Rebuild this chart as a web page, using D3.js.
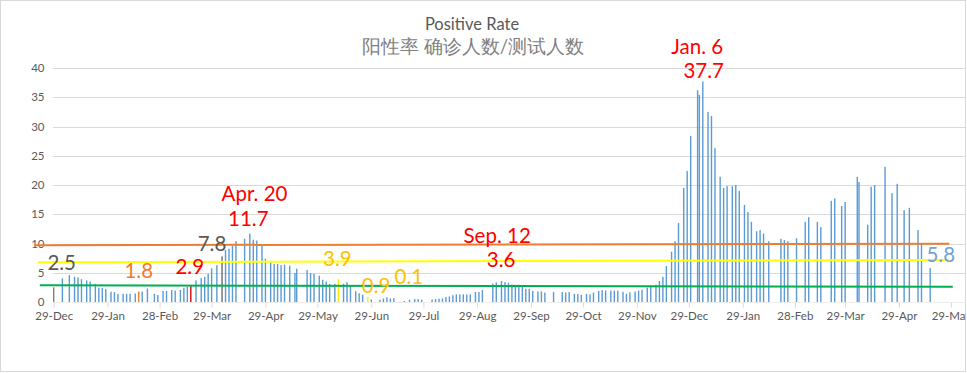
<!doctype html>
<html>
<head>
  <title>Positive Rate</title>
  <meta charset="UTF-8">
  <script src="https://d3js.org/d3.v7.min.js"></script>
  <style>
    body { margin: 0; background: #ffffff; }
    text { font-family: Lato, "Noto Sans", sans-serif; }
  </style>
</head>
<body>
  <div id="svg_area"></div>

<script>

// report dates and the positive rate (%) for each one
var dates = [
  "2019-12-29","2020-01-03","2020-01-07","2020-01-10","2020-01-12","2020-01-14","2020-01-17","2020-01-19",
  "2020-01-22","2020-01-24","2020-01-26","2020-01-28","2020-01-31","2020-02-02","2020-02-04","2020-02-07",
  "2020-02-09","2020-02-11","2020-02-14","2020-02-16","2020-02-18","2020-02-21","2020-02-25","2020-02-27",
  "2020-03-01","2020-03-03","2020-03-06","2020-03-08","2020-03-11","2020-03-13","2020-03-15","2020-03-17",
  "2020-03-20","2020-03-23","2020-03-25","2020-03-27","2020-03-29","2020-04-01","2020-04-04","2020-04-06",
  "2020-04-08","2020-04-10","2020-04-12","2020-04-17","2020-04-20","2020-04-22","2020-04-24","2020-04-27",
  "2020-04-29","2020-05-02","2020-05-04","2020-05-06","2020-05-08","2020-05-10","2020-05-13","2020-05-16",
  "2020-05-17","2020-05-23","2020-05-25","2020-05-27","2020-05-30","2020-06-01","2020-06-03","2020-06-05",
  "2020-06-08","2020-06-10","2020-06-13","2020-06-15","2020-06-17","2020-06-20","2020-06-22","2020-06-24",
  "2020-06-27","2020-06-29","2020-07-04","2020-07-06","2020-07-08","2020-07-10","2020-07-12","2020-07-15",
  "2020-07-18","2020-07-21","2020-07-24","2020-07-26","2020-07-28","2020-08-03","2020-08-05","2020-08-07",
  "2020-08-09","2020-08-11","2020-08-13","2020-08-15","2020-08-17","2020-08-19","2020-08-21","2020-08-23",
  "2020-08-25","2020-08-28","2020-08-30","2020-09-01","2020-09-07","2020-09-09","2020-09-12","2020-09-14",
  "2020-09-16","2020-09-18","2020-09-20","2020-09-22","2020-09-24","2020-09-26","2020-09-28","2020-09-30",
  "2020-10-03","2020-10-05","2020-10-07","2020-10-12","2020-10-17","2020-10-19","2020-10-21","2020-10-24",
  "2020-10-26","2020-10-28","2020-10-31","2020-11-02","2020-11-04","2020-11-07","2020-11-09","2020-11-11",
  "2020-11-14","2020-11-16","2020-11-18","2020-11-21","2020-11-23","2020-11-25","2020-11-28","2020-11-30",
  "2020-12-02","2020-12-05","2020-12-07","2020-12-10","2020-12-12","2020-12-14","2020-12-16","2020-12-19",
  "2020-12-21","2020-12-23","2020-12-26","2020-12-28","2020-12-30","2021-01-03","2021-01-04","2021-01-06",
  "2021-01-09","2021-01-11","2021-01-13","2021-01-16","2021-01-18","2021-01-20","2021-01-23","2021-01-25",
  "2021-01-27","2021-01-30","2021-02-01","2021-02-03","2021-02-06","2021-02-08","2021-02-10","2021-02-13",
  "2021-02-20","2021-02-22","2021-02-24","2021-03-01","2021-03-06","2021-03-08","2021-03-13","2021-03-15",
  "2021-03-21","2021-03-23","2021-03-27","2021-03-29","2021-04-05","2021-04-06","2021-04-11","2021-04-13",
  "2021-04-15","2021-04-21","2021-04-25","2021-04-28","2021-05-02","2021-05-05","2021-05-10","2021-05-12",
  "2021-05-17"
];
var rates = [
  2.5, 4.05, 4.6, 4.3, 4.2, 3.9, 3.7, 3.5,
  3.1, 2.45, 2.4, 2.2, 1.75, 1.7, 1.4, 1.4,
  1.4, 1.4, 1.45, 1.8, 1.8, 2.3, 1.4, 1.2,
  1.9, 1.9, 2.05, 1.95, 2.05, 2.4, 2.6, 2.9,
  3.7, 4.1, 4.3, 4.8, 5.75, 6.3, 7.8, 8.9,
  9.1, 9.6, 10.4, 10.8, 11.7, 10.65, 10.5, 9.7,
  7.4, 6.8, 6.5, 6.5, 6.3, 6.4, 6.2, 4.95,
  5.7, 5.45, 4.95, 4.8, 4.5, 3.8, 3.5, 3.1,
  3.1, 3.9, 3.1, 3.4, 2.8, 1.85, 1.5, 1.25,
  0.9, 0.45, 0.4, 0.6, 0.8, 0.6, 0.65, 0.1,
  0.17, 0.4, 0.5, 0.5, 0.4, 0.42, 0.52, 0.58,
  0.62, 0.85, 0.95, 1.15, 1.3, 1.3, 1.3, 1.3,
  1.3, 1.7, 1.7, 2.05, 3.15, 3.35, 3.6, 3.4,
  3.3, 3.0, 2.95, 2.95, 2.8, 2.25, 2.25, 1.9,
  1.8, 1.8, 1.62, 1.72, 1.7, 1.62, 1.7, 1.4,
  1.38, 1.25, 1.4, 1.3, 1.62, 1.9, 2.05, 1.95,
  1.95, 1.95, 1.95, 1.75, 1.4, 1.65, 1.8, 1.95,
  2.1, 2.45, 2.8, 2.95, 3.6, 4.3, 6.15, 8.6,
  10.4, 13.5, 19.5, 22.4, 28.4, 36.2, 35.4, 37.7,
  32.5, 31.8, 26.3, 21.4, 19.5, 19.8, 19.8, 20.0,
  19.0, 16.6, 15.4, 13.7, 12.1, 12.3, 11.7, 10.4,
  10.8, 10.6, 10.4, 10.9, 13.7, 14.5, 13.7, 12.8,
  17.3, 17.7, 16.4, 17.1, 21.4, 20.5, 13.2, 19.7,
  20.0, 23.1, 18.6, 20.2, 15.7, 16.1, 12.3, 9.9,
  5.8
];

// axis ticks
var tickDates = ["2019-12-29","2020-01-29","2020-02-28","2020-03-29","2020-04-29","2020-05-29",
  "2020-06-29","2020-07-29","2020-08-29","2020-09-29","2020-10-29","2020-11-29","2020-12-29",
  "2021-01-29","2021-02-28","2021-03-29","2021-04-29","2021-05-29"];
var yTicks = [0, 5, 10, 15, 20, 25, 30, 35, 40];

// highlighted points and their call-out text
var noteDates = ["2019-12-29","2020-02-16","2020-03-17","2020-04-04","2020-04-20","2020-06-10",
  "2020-06-27","2020-07-15","2020-09-12","2021-01-06","2021-05-17"];
var noteLabels = [["2.5"],["1.8"],["2.9"],["7.8"],["Apr. 20","11.7"],["3.9"],
  ["0.9"],["0.1"],["Sep. 12","3.6"],["Jan. 6","37.7"],["5.8"]];

// three hand drawn guide lines: start/end dates and levels
var guideStart = ["2019-12-18","2019-12-20","2019-12-21"];
var guideEnd = ["2021-05-28","2021-05-28","2021-05-30"];
var guideFrom = [9.7, 6.8, 2.85];
var guideTo = [9.97, 7.18, 2.62];


function drawChart(){

  var parse = d3.utcParse("%Y-%m-%d");
  var width = 967, height = 373;
  var left = 53, right = 966;

  // styling for the call-outs (same order as noteDates)
  var noteBar = ["#7F7F7F","#ED7D31","#E00000","#6E6E6E",null,"#FFE800","#FFE800","#FFE800",null,null,null];
  var noteColor = ["#595959","#ED7D31","#FF0000","#595959","#FF0000","#FFC000","#FFC000","#FFC000","#FF0000","#FF0000","#6FA3D6"];
  // offset of the value line from the top of its bar, and of the date line from the bar
  var noteDx = [8, 0, -1, -10, -1.5, -1, 8.3, 9.8, -0.3, 0.9, 10.6];
  var noteDy = [-17, -13, -11, -5, -7.6, -13, -4, -17.4, -13.6, -3.2, -6];
  var dateDx = [0, 0, 0, 0, 4.7, 0, 0, 0, -4.3, -5.6, 0];
  var guideColor = ["#ED7D31", "#FFFF00", "#00B050"];

  var svg = d3.select("#svg_area").append("svg")
    .attr("width", width)
    .attr("height", height);

  svg.append("clipPath").attr("id", "frame")
    .append("rect").attr("x", 0).attr("y", 0).attr("width", right).attr("height", height);

  // chart border
  svg.append("rect")
    .attr("x", 0.5).attr("y", 0.5)
    .attr("width", width - 2).attr("height", height - 2)
    .attr("fill", "#ffffff")
    .attr("stroke", "#D9D9D9");

  var xScale = d3.scaleUtc()
    .domain([parse("2019-12-29"), parse("2021-05-29")])
    .range([53.7, 951]);

  var yScale = d3.scaleLinear()
    .domain([0, 40])
    .range([302, 68]);

  // horizontal gridlines
  svg.append("g").selectAll("line")
    .data(yTicks.slice(1))
    .enter().append("line")
    .attr("x1", left).attr("x2", right)
    .attr("y1", function(d){ return Math.round(yScale(d)) + 0.5; })
    .attr("y2", function(d){ return Math.round(yScale(d)) + 0.5; })
    .attr("stroke", "#D9D9D9");

  // y axis labels
  var yAxis = d3.axisLeft(yScale).tickValues(yTicks).tickSize(0).tickPadding(0);
  var gy = svg.append("g").attr("transform", "translate(44.5,0)").call(yAxis);
  gy.select(".domain").remove();
  gy.selectAll("text")
    .attr("fill", "#595959")
    .attr("font-size", "11.5px")
    .attr("font-family", "Lato, sans-serif");

  // x axis
  var xAxis = d3.axisBottom(xScale)
    .tickValues(tickDates.map(parse))
    .tickFormat(d3.utcFormat("%d-%b"))
    .tickSize(5)
    .tickSizeOuter(0)
    .tickPadding(4);
  var gx = svg.append("g")
    .attr("transform", "translate(0,302.5)")
    .attr("clip-path", "url(#frame)")
    .call(xAxis);
  gx.select(".domain").remove();
  gx.selectAll("line").attr("stroke", "#D9D9D9");
  gx.selectAll("text")
    .attr("fill", "#595959")
    .attr("font-size", "11.5px")
    .attr("font-family", "Lato, sans-serif");
  gx.append("line")
    .attr("x1", left).attr("x2", right)
    .attr("y1", 0).attr("y2", 0)
    .attr("stroke", "#D9D9D9");

  // bars
  svg.append("g").selectAll("rect")
    .data(rates)
    .enter().append("rect")
    .attr("x", function(d, i){ return xScale(parse(dates[i])) - 0.7; })
    .attr("y", function(d){ return yScale(d); })
    .attr("width", 1.4)
    .attr("height", function(d){ return yScale(0) - yScale(d); })
    .attr("fill", function(d, i){
      var k = noteDates.indexOf(dates[i]);
      return (k >= 0 && noteBar[k]) ? noteBar[k] : "#5B9BD5";
    });

  // guide lines
  svg.append("g").selectAll("line")
    .data(guideFrom)
    .enter().append("line")
    .attr("x1", function(d, i){ return xScale(parse(guideStart[i])); })
    .attr("x2", function(d, i){ return xScale(parse(guideEnd[i])); })
    .attr("y1", function(d){ return yScale(d); })
    .attr("y2", function(d, i){ return yScale(guideTo[i]); })
    .attr("stroke", function(d, i){ return guideColor[i]; })
    .attr("stroke-width", 2);

  // call-outs
  var notes = svg.append("g");
  noteDates.forEach(function(nd, i){
    var v = rates[dates.indexOf(nd)];
    var bx = xScale(parse(nd));
    var by = yScale(v);
    var lines = noteLabels[i];
    var vy = by + noteDy[i];
    notes.append("text")
      .attr("x", bx + noteDx[i])
      .attr("y", vy)
      .attr("text-anchor", "middle")
      .attr("font-size", "20.5px")
      .attr("fill", noteColor[i])
      .text(lines[lines.length - 1]);
    if (lines.length > 1) {
      notes.append("text")
        .attr("x", bx + dateDx[i])
        .attr("y", vy - 24.5)
        .attr("text-anchor", "middle")
        .attr("font-size", "20.5px")
        .attr("fill", noteColor[i])
        .text(lines[0]);
    }
  });

  // title
  svg.append("text")
    .attr("x", 472).attr("y", 30)
    .attr("text-anchor", "middle")
    .attr("font-size", "16.5px")
    .attr("fill", "#595959")
    .text("Positive Rate");
  svg.append("text")
    .attr("x", 473).attr("y", 53)
    .attr("text-anchor", "middle")
    .attr("font-size", "18.5px")
    .attr("font-family", "'Noto Sans CJK SC', sans-serif")
    .attr("fill", "#7F7F7F")
    .text("阳性率 确诊人数/测试人数");
}

drawChart();

</script>
</body>
</html>
